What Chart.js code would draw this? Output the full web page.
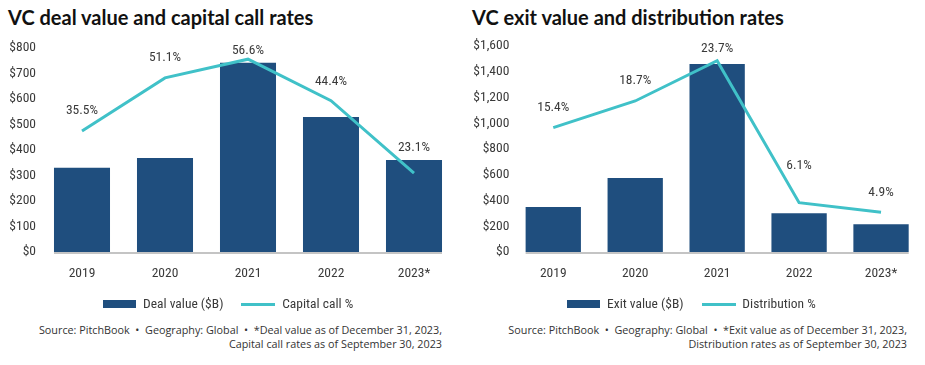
<!DOCTYPE html>
<html>
<head>
<meta charset="utf-8">
<script src="https://cdn.jsdelivr.net/npm/chart.js@4.4.1/dist/chart.umd.min.js"></script>
<style>
  html, body { margin: 0; padding: 0; background: #fff; }
  body { width: 925px; height: 365px; position: relative; overflow: hidden; font-family: 'Open Sans', sans-serif; }
  .title { position: absolute; top: 5px; font-family: 'Lato', sans-serif; font-weight: 700; font-size: 20px; color: #111; white-space: nowrap; }
  .wrap { position: absolute; top: 35px; height: 286px; }
  .source { position: absolute; top: 323px; font-size: 10.8px; line-height: 14.3px; color: #333; text-align: right; white-space: nowrap; }
</style>
</head>
<body>
<div class="title" style="left:8px">VC deal value and capital call rates</div>
<div class="title" style="left:472px">VC exit value and distribution rates</div>

<div class="wrap" style="left:0; width:460px"><canvas id="deal-chart"></canvas></div>
<div class="wrap" style="left:460px; width:465px"><canvas id="exit-chart"></canvas></div>

<div class="source" style="right:483px">Source: PitchBook &nbsp;•&nbsp; Geography: Global &nbsp;•&nbsp; *Deal value as of December 31, 2023,<br>Capital call rates as of September 30, 2023</div>
<div class="source" style="right:18px">Source: PitchBook &nbsp;•&nbsp; Geography: Global &nbsp;•&nbsp; *Exit value as of December 31, 2023,<br>Distribution rates as of September 30, 2023</div>

<script>
// ── dados ──
const years = ['2019', '2020', '2021', '2022', '2023*'];
const dealValue = [330, 368, 741, 528, 360];
const capitalCall = [35.5, 51.1, 56.6, 44.4, 23.1];
const exitValue = [350, 575, 1460, 300, 215];
const distribution = [15.4, 18.7, 23.7, 6.1, 4.9];

const BAR = '#1f4e7e';
const LINE = '#40c1c8';
const TXT = '#3a3a3a';
const FONT = "'Liberation Sans Narrow', 'Roboto Condensed', sans-serif";
const FSIZE = 13.5;

// swatches da legenda (imagem como pointStyle)
function swatch(w, h, color) {
  const c = document.createElement('canvas');
  c.width = w; c.height = h;
  const ctx = c.getContext('2d');
  ctx.fillStyle = color;
  ctx.fillRect(0, 0, w, h);
  return c;
}
const barSwatch = swatch(33, 8, BAR);
const lineSwatch = swatch(34, 3, LINE);

// rótulos % acima da linha
const pctLabels = {
  id: 'pctLabels',
  afterDatasetsDraw(chart, args, opts) {
    const meta = chart.getDatasetMeta(1);
    const ds = chart.data.datasets[1];
    const ctx = chart.ctx;
    ctx.save();
    ctx.font = `${FSIZE}px ${FONT}`;
    ctx.fillStyle = TXT;
    ctx.textAlign = 'center';
    ctx.textBaseline = 'middle';
    meta.data.forEach((pt, i) => {
      const y = Math.max(pt.y - opts.lift[i], chart.chartArea.top + 3);
      ctx.fillText(ds.data[i].toFixed(1) + '%', pt.x, y);
    });
    ctx.restore();
  },
};

// linha de base cinza só sob as barras
const baseLine = {
  id: 'baseLine',
  beforeDatasetsDraw(chart) {
    const bars = chart.getDatasetMeta(0).data;
    const first = bars[0], last = bars[bars.length - 1];
    const ctx = chart.ctx;
    const y = chart.scales.y.getPixelForValue(0);
    ctx.save();
    ctx.strokeStyle = '#c4c4c4';
    ctx.lineWidth = 2;
    ctx.beginPath();
    ctx.moveTo(first.x - first.width / 2, y + 1);
    ctx.lineTo(last.x + last.width / 2, y + 1);
    ctx.stroke();
    ctx.restore();
  },
};

function makeChart(id, opts) {
  return new Chart(document.getElementById(id), {
    type: 'bar',
    data: {
      labels: years,
      datasets: [
        {
          type: 'bar',
          label: opts.barLabel,
          data: opts.bars,
          backgroundColor: BAR,
          categoryPercentage: 1,
          barPercentage: 0.675,
          yAxisID: 'y',
          order: 2,
        },
        {
          type: 'line',
          label: opts.lineLabel,
          data: opts.line,
          borderColor: LINE,
          borderWidth: 3,
          pointRadius: 0,
          tension: 0,
          yAxisID: 'y2',
          order: 1,
        },
      ],
    },
    options: {
      responsive: true,
      maintainAspectRatio: false,
      animation: false,
      layout: { padding: { top: 10, left: 0, right: opts.padRight, bottom: 0 } },
      plugins: {
        legend: {
          position: 'bottom',
          sort: (a, b) => a.datasetIndex - b.datasetIndex,
          labels: {
            usePointStyle: true,
            pointStyleWidth: 34,
            padding: 18,
            color: TXT,
            font: { family: FONT, size: FSIZE },
            generateLabels: () => [
              { text: opts.barLabel, pointStyle: barSwatch, datasetIndex: 0, fontColor: TXT, lineWidth: 0, strokeStyle: 'transparent', fillStyle: BAR },
              { text: opts.lineLabel, pointStyle: lineSwatch, datasetIndex: 1, fontColor: TXT, lineWidth: 0, strokeStyle: 'transparent', fillStyle: LINE },
            ],
          },
        },
        tooltip: { enabled: false },
        pctLabels: { lift: opts.lift },
      },
      scales: {
        x: {
          afterFit: (s) => { s.height = 27.6; },
          grid: { display: false, drawTicks: false },
          border: { display: false },
          ticks: { color: TXT, font: { family: FONT, size: FSIZE }, padding: 14 },
        },
        y: {
          min: 0,
          max: opts.yMax,
          afterFit: (s) => { s.width = opts.axisWidth; },
          grid: { display: false, drawTicks: false },
          border: { display: false },
          ticks: {
            stepSize: opts.yStep,
            padding: opts.tickPad,
            color: TXT,
            font: { family: FONT, size: FSIZE },
            callback: (v) => '$' + v.toLocaleString('en-US'),
          },
        },
        y2: {
          display: false,
          min: 0,
          max: opts.y2Max,
        },
      },
    },
    plugins: [baseLine, pctLabels],
  });
}

makeChart('deal-chart', {
  barLabel: 'Deal value ($B)',
  lineLabel: 'Capital call %',
  bars: dealValue,
  line: capitalCall,
  yMax: 800,
  yStep: 100,
  y2Max: 60,
  axisWidth: 40.5,
  tickPad: 4.5,
  padRight: 4.5,
  lift: [20, 20, 20, 19, 26],
});

makeChart('exit-chart', {
  barLabel: 'Exit value ($B)',
  lineLabel: 'Distribution %',
  bars: exitValue,
  line: distribution,
  yMax: 1600,
  yStep: 200,
  y2Max: 25.5,
  axisWidth: 52.3,
  tickPad: 3,
  padRight: 3,
  lift: [20, 20, 20, 37, 20],
});
</script>
</body>
</html>
